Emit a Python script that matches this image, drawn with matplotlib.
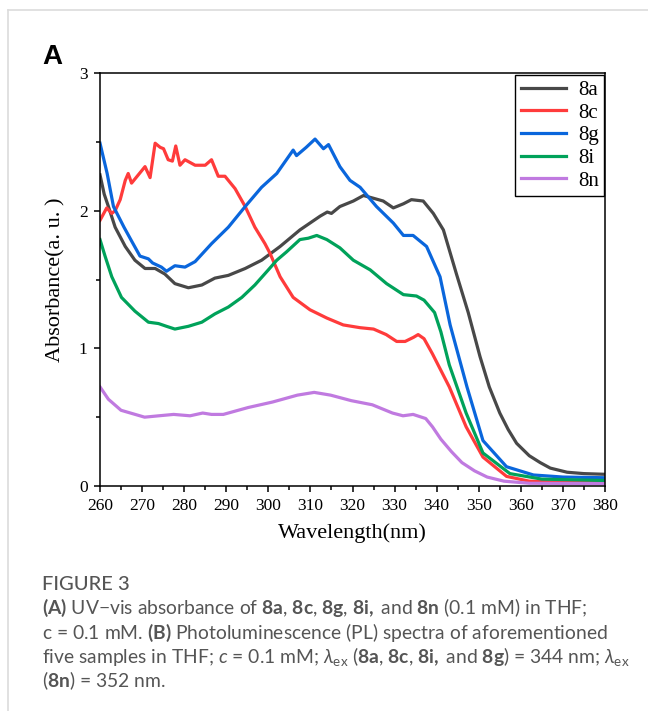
import matplotlib
matplotlib.use("Agg")
import matplotlib.pyplot as plt
from matplotlib.ticker import MultipleLocator
from matplotlib.lines import Line2D

# ---------------- data ----------------
series_names = ["8a", "8c", "8g", "8i", "8n"]
series_colors = ["#484848", "#ff3b3b", "#0a66dc", "#00a25a", "#c07ae0"]

wl_8a = [260, 261, 262, 263.6, 266, 268.3, 270.7, 273.1, 275.4, 277.8, 281, 284.2, 287.3,
         290.5, 294.5, 298.4, 302.8, 307.5, 312.3, 314, 315, 317, 320.2, 322.6, 325, 327.3,
         329.7, 332.1, 334, 336.8, 339.2, 341.6, 344.7, 347.5, 350.3, 352.5, 355, 357, 359,
         362, 364.6, 367, 371, 375, 380]
abs_8a = [2.26, 2.12, 2.03, 1.88, 1.74, 1.64, 1.58, 1.58, 1.54, 1.47, 1.44, 1.46, 1.51,
          1.53, 1.58, 1.64, 1.74, 1.86, 1.96, 1.99, 1.98, 2.03, 2.07, 2.11, 2.09, 2.07,
          2.02, 2.05, 2.08, 2.07, 1.98, 1.86, 1.54, 1.26, 0.94, 0.72, 0.53, 0.41, 0.31,
          0.22, 0.17, 0.13, 0.10, 0.09, 0.085]

wl_8c = [260, 261.6, 262.8, 263.6, 264.8, 266, 266.7, 267.5, 269.1, 270.7, 271.9, 273.1,
         274.3, 275.1, 276.2, 277.2, 278, 279, 280.2, 282.6, 285, 286.5, 288.1, 289.7,
         292.1, 294.5, 296.8, 299.2, 300.4, 302.8, 305.9, 309.9, 313.9, 317.8, 321.8, 325,
         328, 330.5, 332.5, 334.5, 335.6, 337, 339, 343, 347, 351, 356.6, 362, 370, 380]
abs_8c = [1.93, 2.02, 1.98, 2.00, 2.08, 2.22, 2.27, 2.20, 2.26, 2.32, 2.24, 2.49,
          2.46, 2.45, 2.37, 2.36, 2.47, 2.33, 2.37, 2.33, 2.33, 2.37, 2.25, 2.25,
          2.16, 2.03, 1.88, 1.76, 1.69, 1.52, 1.37, 1.28, 1.22, 1.17, 1.15, 1.14,
          1.10, 1.05, 1.05, 1.08, 1.10, 1.07, 0.96, 0.72, 0.43, 0.21, 0.07, 0.035, 0.028, 0.027]

wl_8g = [260, 261.7, 263.2, 265.7, 267.5, 269.5, 271.5, 272.5, 274.6, 275.8, 277.8, 280.2,
         282.6, 286.5, 290.5, 294.5, 298.4, 302, 305.9, 306.7, 309, 311.1, 313.1, 314.3,
         317, 319.4, 321.8, 325.7, 329.7, 332.1, 334.4, 337.6, 340.8, 343.2, 347.2, 351,
         356.6, 363, 370, 380]
abs_8g = [2.49, 2.27, 2.03, 1.88, 1.78, 1.67, 1.65, 1.62, 1.59, 1.56, 1.60, 1.59,
          1.63, 1.76, 1.88, 2.03, 2.17, 2.27, 2.44, 2.40, 2.46, 2.52, 2.45, 2.48,
          2.32, 2.22, 2.17, 2.03, 1.91, 1.82, 1.82, 1.74, 1.52, 1.17, 0.72, 0.33,
          0.14, 0.08, 0.065, 0.06]

wl_8i = [260, 261.2, 262.8, 265.1, 268.3, 271.5, 273.9, 275.8, 277.8, 281, 284.2, 287.3,
         290.5, 293.7, 296.8, 300, 302, 304.3, 307.5, 309.5, 311.5, 313.9, 317, 320.2,
         324.2, 328.1, 332.1, 335.2, 337, 339.5, 341, 343, 347, 351, 357.4, 365, 380]
abs_8i = [1.79, 1.67, 1.52, 1.37, 1.27, 1.19, 1.18, 1.16, 1.14, 1.16, 1.19, 1.25,
          1.30, 1.37, 1.46, 1.57, 1.64, 1.70, 1.79, 1.80, 1.82, 1.79, 1.73, 1.64,
          1.57, 1.47, 1.39, 1.38, 1.35, 1.26, 1.12, 0.88, 0.53, 0.24, 0.09, 0.05, 0.04]

wl_8n = [260, 262, 265, 270.6, 274, 277.5, 281.4, 284.4, 286.5, 289.3, 295.2, 301, 306.9,
         310.9, 314.8, 319.7, 324.7, 329.5, 332, 334.4, 337.4, 339, 341, 343.5, 346, 349,
         352, 356, 362, 380]
abs_8n = [0.72, 0.63, 0.55, 0.50, 0.51, 0.52, 0.51, 0.53, 0.52, 0.52, 0.57, 0.61, 0.66,
          0.68, 0.66, 0.62, 0.59, 0.53, 0.51, 0.52, 0.49, 0.43, 0.34, 0.25, 0.17, 0.11,
          0.065, 0.035, 0.02, 0.017]

x_ticks = [260, 270, 280, 290, 300, 310, 320, 330, 340, 350, 360, 370, 380]
y_ticks = [0, 1, 2, 3]

# ---------------- figure ----------------
W, H = 648, 711
fig = plt.figure(figsize=(W / 100, H / 100), dpi=100)
fig.patch.set_facecolor("white")

# card border (light gray)
fig.add_artist(Line2D([8 / W, 1], [1 - 10 / H, 1 - 10 / H], color="#dcdcdc", lw=1.2))
fig.add_artist(Line2D([8 / W, 8 / W], [0, 1 - 10 / H], color="#dcdcdc", lw=1.2))

ax = fig.add_axes([100 / W, 1 - 486 / H, 505 / W, 413 / H])
serif = "Liberation Serif"

wls = [wl_8a, wl_8c, wl_8g, wl_8i, wl_8n]
abss = [abs_8a, abs_8c, abs_8g, abs_8i, abs_8n]
for name, col, xs, ys in zip(series_names, series_colors, wls, abss):
    ax.plot(xs, ys, color=col, lw=2.3, label=name, solid_joinstyle="round")

ax.set_xlim(260, 380)
ax.set_ylim(0, 3)
ax.set_xticks(x_ticks)
ax.set_yticks(y_ticks)
ax.xaxis.set_minor_locator(MultipleLocator(5))
ax.yaxis.set_minor_locator(MultipleLocator(0.5))
ax.tick_params(which="both", direction="out", top=False, right=False, width=1.1)
ax.tick_params(which="major", length=4.5, pad=4.5, labelsize=12.5)
ax.tick_params(which="minor", length=3)
for lab in ax.get_xticklabels() + ax.get_yticklabels():
    lab.set_fontfamily(serif)
for s in ax.spines.values():
    s.set_linewidth(1.1)

ax.set_xlabel("Wavelength(nm)", fontfamily=serif, fontsize=16, labelpad=6)
ax.set_ylabel("Absorbance(a. u. )", fontfamily=serif, fontsize=16)
ax.yaxis.set_label_coords(-0.068, 0.5)

leg = ax.legend(loc="upper right", bbox_to_anchor=(0.998, 0.995), prop={"family": serif, "size": 15},
                frameon=True, fancybox=False, edgecolor="black", framealpha=1,
                handlelength=2.2, handletextpad=0.55, labelspacing=0.15, borderpad=0.25,
                borderaxespad=0.0)
leg.get_frame().set_linewidth(1.0)

fig.text(42 / W, 1 - 64 / H, "A", fontsize=20, fontweight="bold", fontfamily="Liberation Sans",
         color="black")

# ---------------- caption ----------------
plt.rcParams["mathtext.fontset"] = "custom"
plt.rcParams["mathtext.rm"] = "Lato"
plt.rcParams["mathtext.bf"] = "Lato:bold"
plt.rcParams["mathtext.it"] = "Lato:italic"
cap_col = "#555555"
cap_font = "Lato"
fig.text(42 / W, 1 - 590 / H, "FIGURE 3", fontsize=14.5, fontfamily=cap_font, color=cap_col,
         fontweight="medium")
lines = [
    r"$\mathbf{(A)}$ UV$-$vis absorbance of $\mathbf{8a}$, $\mathbf{8c}$, $\mathbf{8g}$, $\mathbf{8i,}$ and $\mathbf{8n}$ (0.1 mM) in THF;",
    r"c = 0.1 mM. $\mathbf{(B)}$ Photoluminescence (PL) spectra of aforementioned",
    r"five samples in THF; $c$ = 0.1 mM; $\lambda_{\mathrm{ex}}$ ($\mathbf{8a}$, $\mathbf{8c}$, $\mathbf{8i,}$ and $\mathbf{8g}$) = 344 nm; $\lambda_{\mathrm{ex}}$",
    r"($\mathbf{8n}$) = 352 nm.",
]
base = [614, 639, 663, 687]
for t, b in zip(lines, base):
    fig.text(42 / W, 1 - b / H, t, fontsize=13.9, fontfamily=cap_font, color=cap_col)

fig.savefig("out.png", dpi=100)
